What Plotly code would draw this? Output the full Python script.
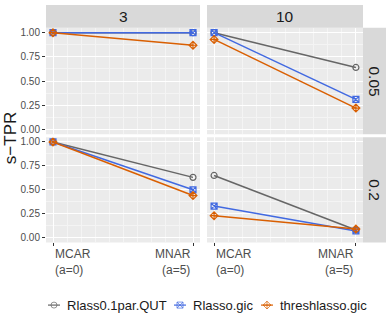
import plotly.graph_objects as go

# x positions (a value) and tick labels
a_vals = [0, 5]
a_labels = ["MCAR<br>(a=0)", "MNAR<br>(a=5)"]

col_labels = ["3", "10"]
row_labels = ["0.05", "0.2"]

methods = ["Rlass0.1par.QUT", "Rlasso.gic", "threshlasso.gic"]

# s-TPR per facet (row alpha, column k), MCAR then MNAR
qut_3_005 = [1.00, 1.00]
gic_3_005 = [1.00, 1.00]
thr_3_005 = [1.00, 0.87]

qut_10_005 = [1.00, 0.64]
gic_10_005 = [1.00, 0.31]
thr_10_005 = [0.93, 0.22]

qut_3_02 = [1.00, 0.63]
gic_3_02 = [1.00, 0.50]
thr_3_02 = [1.00, 0.44]

qut_10_02 = [0.65, 0.08]
gic_10_02 = [0.33, 0.07]
thr_10_02 = [0.23, 0.09]

facets = [
    (0, 0, [qut_3_005, gic_3_005, thr_3_005]),
    (0, 1, [qut_10_005, gic_10_005, thr_10_005]),
    (1, 0, [qut_3_02, gic_3_02, thr_3_02]),
    (1, 1, [qut_10_02, gic_10_02, thr_10_02]),
]

colors = ["#666666", "#4169E1", "#D95F02"]
symbols = ["circle-open", "square-x-open", "diamond-cross-open"]

W, H = 390, 321
xdom = [[46 / W, 200 / W], [207 / W, 363 / W]]
ydom = [[1 - 134 / H, 1 - 27 / H], [1 - 243 / H, 1 - 137 / H]]

font = "Liberation Sans, Arial, sans-serif"
fig = go.Figure()
layout = {}
for r in range(2):
    for c in range(2):
        n = r * 2 + c + 1
        xa = "xaxis" if n == 1 else f"xaxis{n}"
        ya = "yaxis" if n == 1 else f"yaxis{n}"
        layout[xa] = dict(domain=xdom[c], range=[-0.25, 5.25], anchor=f"y{n}" if n > 1 else "y",
                          dtick=1, showticklabels=False, showgrid=True, gridcolor="white",
                          gridwidth=1.1, zeroline=False, ticks="outside" if r == 1 else "",
                          ticklen=3, tickcolor="#333333", tickvals=a_vals,
                          minor=dict(dtick=0.5, showgrid=True, gridcolor="#F4F4F4", gridwidth=0.5),
                          showline=False, fixedrange=True)
        layout[ya] = dict(domain=ydom[r], range=[-0.05, 1.05], anchor=f"x{n}" if n > 1 else "x",
                          tickvals=[0, 0.25, 0.5, 0.75, 1.0],
                          ticktext=["0.00", "0.25", "0.50", "0.75", "1.00"],
                          showticklabels=(c == 0), ticks="outside" if c == 0 else "",
                          ticklen=3, tickcolor="#333333",
                          tickfont=dict(size=10, color="#4D4D4D", family=font),
                          showgrid=True, gridcolor="white", gridwidth=1.1, zeroline=False,
                          minor=dict(tickvals=[0.125, 0.375, 0.625, 0.875], showgrid=True,
                                     gridcolor="#F4F4F4", gridwidth=0.5), fixedrange=True)
        # panel background
        fig.add_shape(type="rect", xref="paper", yref="paper",
                      x0=xdom[c][0], x1=xdom[c][1], y0=ydom[r][0], y1=ydom[r][1],
                      fillcolor="#EBEBEB", line_width=0, layer="below")

for r, c, series in facets:
    n = r * 2 + c + 1
    for i, vals in enumerate(series):
        fig.add_trace(go.Scatter(
            x=a_vals, y=vals, mode="lines+markers", name=methods[i], showlegend=False,
            line=dict(color=colors[i], width=1.5),
            marker=dict(symbol=symbols[i], size=6, color=colors[i], line=dict(width=1.2)),
            xaxis="x" if n == 1 else f"x{n}", yaxis="y" if n == 1 else f"y{n}",
        ))

# manual legend on a pixel-space overlay axis
layout["xaxis5"] = dict(domain=[0, 1], range=[0, W], visible=False, fixedrange=True)
layout["yaxis5"] = dict(domain=[0, 1], range=[H, 0], visible=False, fixedrange=True, anchor="x5")
leg_key_x = [54, 180, 267]
leg_y = 306
for i, m in enumerate(methods):
    fig.add_trace(go.Scatter(
        x=[leg_key_x[i] - 6, leg_key_x[i], leg_key_x[i] + 6], y=[leg_y] * 3,
        mode="lines+markers", showlegend=False, hoverinfo="skip",
        line=dict(color=colors[i], width=1.2),
        marker=dict(symbol=symbols[i], size=[0, 6, 0], color=colors[i], line=dict(width=1)),
        xaxis="x5", yaxis="y5",
    ))
    fig.add_annotation(x=leg_key_x[i] + 11, y=leg_y, xref="x5", yref="y5", text=m,
                       showarrow=False, xanchor="left", yanchor="middle",
                       font=dict(size=13, color="#1A1A1A", family=font))

# strips
for c in range(2):
    fig.add_shape(type="rect", xref="paper", yref="paper",
                  x0=xdom[c][0], x1=xdom[c][1], y0=1 - 27 / H, y1=1 - 4 / H,
                  fillcolor="#D9D9D9", line_width=0)
    fig.add_annotation(x=sum(xdom[c]) / 2, y=1 - 15.5 / H, xref="paper", yref="paper",
                       text=col_labels[c], showarrow=False, xanchor="center", yanchor="middle",
                       font=dict(size=15.5, color="#1A1A1A", family=font))
for r in range(2):
    fig.add_shape(type="rect", xref="paper", yref="paper",
                  x0=363 / W, x1=386 / W, y0=ydom[r][0], y1=ydom[r][1],
                  fillcolor="#D9D9D9", line_width=0)
    fig.add_annotation(x=374.5 / W, y=sum(ydom[r]) / 2, xref="paper", yref="paper",
                       text=row_labels[r], showarrow=False, textangle=90,
                       xanchor="center", yanchor="middle",
                       font=dict(size=15.5, color="#1A1A1A", family=font))

# x tick labels
for c in range(2):
    n = 3 + c
    for j, lab in enumerate(a_labels):
        fig.add_annotation(x=a_vals[j], y=1 - 246 / H, xref=f"x{n}", yref="paper",
                           text=lab, showarrow=False, yanchor="top",
                           xanchor="left" if j == 0 else "right",
                           align="left" if j == 0 else "right",
                           font=dict(size=12, color="#4D4D4D", family=font))

# y title
fig.add_annotation(x=10 / W, y=1 - 138 / H, xref="paper", yref="paper", text="s\u2212TPR",
                   showarrow=False, textangle=-90, xanchor="center", yanchor="middle",
                   font=dict(size=17, color="#1A1A1A", family=font))

fig.update_layout(
    width=W, height=H, margin=dict(l=0, r=0, t=0, b=0),
    paper_bgcolor="white", plot_bgcolor="rgba(0,0,0,0)",
    font=dict(family=font), showlegend=False,
    **layout,
)

fig.write_html("out.html", config={"displayModeBar": False},
               post_script="document.body.style.margin='0';document.body.style.overflow='hidden';")
